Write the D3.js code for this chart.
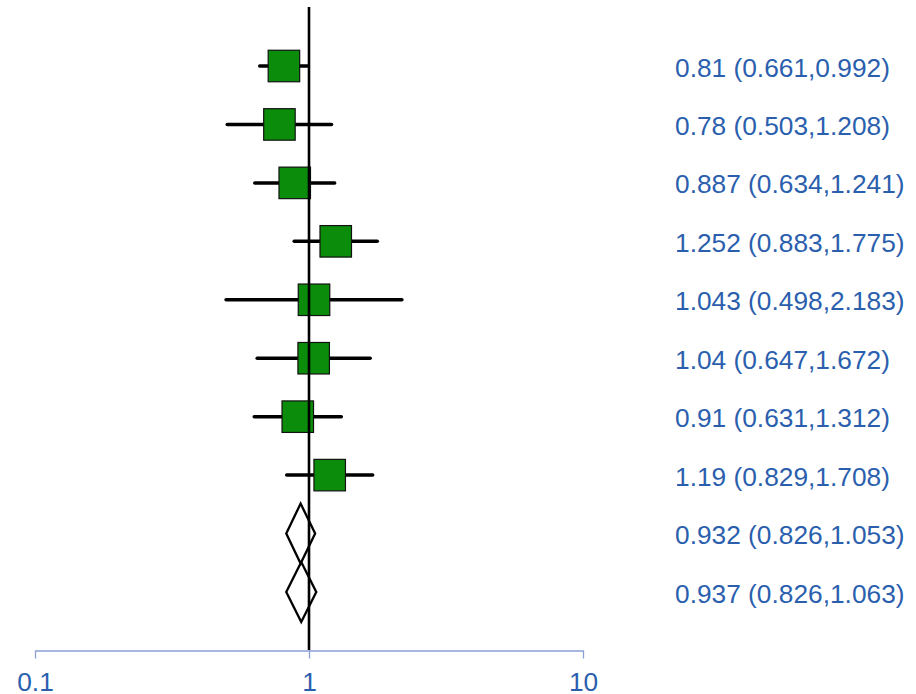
<!DOCTYPE html>
<html>
<head>
<meta charset="utf-8">
<script src="https://cdn.jsdelivr.net/npm/d3@7/dist/d3.min.js"></script>
<style>
  html, body { margin: 0; padding: 0; background: #ffffff; }
  svg { display: block; }
</style>
</head>
<body>
<svg id="chart" width="916" height="694"></svg>
<script>
// Study estimates (ratio with 95% interval)
const estimates = [0.81, 0.78, 0.887, 1.252, 1.043, 1.04, 0.91, 1.19];
const lowerCI   = [0.661, 0.503, 0.634, 0.883, 0.498, 0.647, 0.631, 0.829];
const upperCI   = [0.992, 1.208, 1.241, 1.775, 2.183, 1.672, 1.312, 1.708];

// Pooled summaries drawn as diamonds
const pooledEst   = [0.932, 0.937];
const pooledLower = [0.826, 0.826];
const pooledUpper = [1.053, 1.063];

// Text shown at the right of each row
const rowLabels = [
  "0.81 (0.661,0.992)",
  "0.78 (0.503,1.208)",
  "0.887 (0.634,1.241)",
  "1.252 (0.883,1.775)",
  "1.043 (0.498,2.183)",
  "1.04 (0.647,1.672)",
  "0.91 (0.631,1.312)",
  "1.19 (0.829,1.708)",
  "0.932 (0.826,1.053)",
  "0.937 (0.826,1.063)"
];

const tickValues = [0.1, 1, 10];
const tickLabels = ["0.1", "1", "10"];

const svg = d3.select("#chart");
const font = "'Liberation Sans', Arial, sans-serif";
const textBlue = "#2b5fae";
const axisBlue = "#8a9fd6";
const fontSize = "26.3px";

const x = d3.scaleLog().domain([0.1, 10]).range([35, 583]);
const nRows = rowLabels.length;
const y = d3.scalePoint().domain(d3.range(nRows)).range([66, 592]);

const boxSize = 31.5;
const diamondHalfH = 30;

// Confidence interval lines
const studies = estimates.map((e, i) => ({ i, e, lo: lowerCI[i], hi: upperCI[i] }));

svg.append("g").selectAll("line")
  .data(studies).join("line")
  .attr("x1", d => x(d.lo)).attr("x2", d => x(d.hi))
  .attr("y1", d => y(d.i)).attr("y2", d => y(d.i))
  .attr("stroke", "#000").attr("stroke-width", 3.5)
  .attr("stroke-linecap", "round");

// Point estimate squares
svg.append("g").selectAll("rect")
  .data(studies).join("rect")
  .attr("x", d => x(d.e) - boxSize / 2)
  .attr("y", d => y(d.i) - boxSize / 2)
  .attr("width", boxSize).attr("height", boxSize)
  .attr("fill", "#0b8c0b").attr("stroke", "#111").attr("stroke-width", 1.2);

// Pooled diamonds
const pooled = pooledEst.map((e, k) => ({ i: estimates.length + k, e, lo: pooledLower[k], hi: pooledUpper[k] }));
svg.append("g").selectAll("path")
  .data(pooled).join("path")
  .attr("d", d => {
    const cy = y(d.i);
    return `M${x(d.lo)},${cy} L${x(d.e)},${cy - diamondHalfH} L${x(d.hi)},${cy} L${x(d.e)},${cy + diamondHalfH} Z`;
  })
  .attr("fill", "none").attr("stroke", "#000").attr("stroke-width", 2.3)
  .attr("stroke-linejoin", "miter");

// Reference line at 1
svg.append("line")
  .attr("x1", x(1)).attr("x2", x(1))
  .attr("y1", 7).attr("y2", 650)
  .attr("stroke", "#000").attr("stroke-width", 2.6);

// Log axis
const axis = d3.axisBottom(x)
  .tickValues(tickValues)
  .tickFormat((d, i) => tickLabels[i])
  .tickSizeInner(8).tickSizeOuter(0).tickPadding(14);

const axisG = svg.append("g")
  .attr("transform", "translate(0,650.5)")
  .call(axis);
axisG.select(".domain").attr("stroke", axisBlue).attr("stroke-width", 1.3);
axisG.selectAll(".tick line").attr("stroke", axisBlue).attr("stroke-width", 1.3);
axisG.selectAll(".tick text")
  .attr("fill", textBlue)
  .style("font-family", font)
  .style("font-size", fontSize);

// Row labels
svg.append("g").selectAll("text")
  .data(rowLabels).join("text")
  .attr("x", 675)
  .attr("y", (d, i) => y(i) + 10.5)
  .attr("fill", textBlue)
  .style("font-family", font)
  .style("font-size", fontSize)
  .text(d => d);
</script>
</body>
</html>
